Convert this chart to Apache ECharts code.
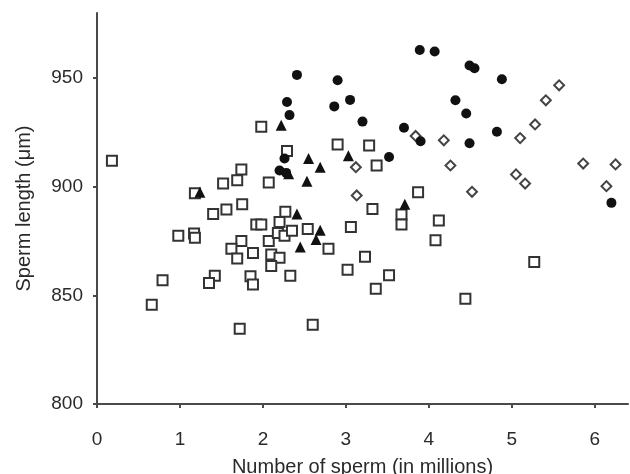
<!DOCTYPE html>
<html>
<head>
<meta charset="utf-8">
<script src="https://cdn.jsdelivr.net/npm/echarts@6/dist/echarts.min.js"></script>
<style>
  html, body { margin: 0; padding: 0; background: #fff; }
  #chart { width: 630px; height: 474px; }
</style>
</head>
<body>
<div id="chart"></div>
<script>
// axis ticks
var xTicks = [0, 1, 2, 3, 4, 5, 6];
var yTicks = [800, 850, 900, 950];

// [number of sperm (millions), sperm length (um)]
var squarePoints = [
	[0.18, 912], [1.74, 908], [1.69, 903], [1.52, 901.5], [1.18, 897], [2.07, 902],
	[1.75, 892], [1.56, 889.5], [1.40, 887.5], [1.92, 882.6], [1.98, 882.6], [0.98, 877.4],
	[1.17, 878.5], [1.18, 876.5], [1.74, 875], [1.62, 871.5], [1.69, 867], [1.88, 869.5],
	[2.07, 875], [0.79, 857], [1.42, 859], [1.35, 855.7], [1.85, 858.8], [1.88, 855],
	[0.66, 845.7], [1.72, 834.6], [1.98, 927.6], [2.29, 916.5], [2.90, 919.5], [3.28, 919],
	[3.37, 909.8], [3.87, 897.5], [3.32, 889.8], [3.67, 887.2], [3.67, 882.6], [2.27, 888.5],
	[4.12, 884.5], [4.08, 875.4], [2.20, 883.8], [2.18, 878.7], [2.26, 877.5], [2.35, 879.8],
	[2.54, 880.6], [3.06, 881.5], [2.79, 871.5], [2.10, 868.8], [2.20, 867.3], [2.10, 863.5],
	[2.33, 859], [3.23, 867.8], [3.02, 861.8], [3.52, 859.3], [3.36, 853], [2.60, 836.5],
	[5.27, 865.4], [4.44, 848.4]
];

var trianglePoints = [
	[1.24, 897.5], [2.22, 928.3], [2.55, 913], [2.69, 909], [2.53, 902.5], [2.31, 906],
	[3.03, 914.3], [3.71, 892], [2.41, 887.5], [2.69, 880], [2.64, 875.7], [2.45, 872.3]
];

var circlePoints = [
	[2.41, 951.5], [2.90, 949], [2.29, 939], [3.05, 940], [2.86, 937], [2.32, 933],
	[3.20, 930], [3.89, 963], [4.07, 962.3], [3.70, 927.2], [3.90, 921], [3.52, 913.7],
	[2.26, 913], [2.20, 907.5], [2.28, 906.4], [4.49, 955.8], [4.55, 954.6], [4.88, 949.5],
	[4.32, 939.8], [4.45, 933.7], [4.82, 925.3], [4.49, 920], [6.20, 892.6]
];

var diamondPoints = [
	[3.12, 909], [3.13, 896], [3.84, 923.4], [4.18, 921.4], [4.26, 909.8], [4.52, 897.7],
	[5.10, 922.4], [5.28, 928.7], [5.41, 939.8], [5.57, 946.7], [5.05, 905.7], [5.16, 901.5],
	[5.86, 910.7], [6.25, 910.3], [6.14, 900.3]
];

var voChart = echarts.init(document.getElementById("chart"), null, { renderer: "canvas" });

var fontFamily = "Liberation Sans, Arial, sans-serif";
var axisColor = "#4a4a4a";
var textColor = "#2a2a2a";

var voOption = {
	animation: false,
	backgroundColor: "#fff",
	grid: { left: 97, right: 2, top: 13, bottom: 70, outerBoundsMode: "none" },
	xAxis: {
		type: "value",
		min: 0,
		max: 6.4,
		interval: 1,
		name: "Number of sperm (in millions)",
		nameLocation: "middle",
		nameGap: 53,
		nameTextStyle: { fontFamily: fontFamily, fontSize: 20, color: textColor },
		splitLine: { show: false },
		axisLine: { lineStyle: { color: axisColor, width: 2 } },
		axisTick: { length: 4, lineStyle: { color: axisColor, width: 2 }, customValues: xTicks },
		axisLabel: { margin: 26, fontFamily: fontFamily, fontSize: 19, color: textColor, customValues: xTicks }
	},
	yAxis: {
		type: "value",
		min: 800,
		max: 980,
		interval: 50,
		name: "Sperm length (\u03bcm)",
		nameLocation: "middle",
		nameGap: 63,
		nameTextStyle: { fontFamily: fontFamily, fontSize: 20, color: textColor },
		splitLine: { show: false },
		axisLine: { show: true, lineStyle: { color: axisColor, width: 2 } },
		axisTick: { show: true, length: 4, lineStyle: { color: axisColor, width: 2 }, customValues: yTicks },
		axisLabel: { margin: 14, fontFamily: fontFamily, fontSize: 19, color: textColor, customValues: yTicks }
	},
	series: [
		{
			type: "scatter",
			data: squarePoints,
			symbol: "rect",
			symbolSize: 10,
			itemStyle: { color: "#fff", borderColor: "#333", borderWidth: 2, opacity: 1 }
		},
		{
			type: "scatter",
			data: diamondPoints,
			symbol: "rect",
			symbolSize: 7,
			symbolRotate: 45,
			itemStyle: { color: "#fff", borderColor: "#444", borderWidth: 2, opacity: 1 }
		},
		{
			type: "scatter",
			data: trianglePoints,
			symbol: "triangle",
			symbolSize: 11,
			itemStyle: { color: "#111", opacity: 1 }
		},
		{
			type: "scatter",
			data: circlePoints,
			symbol: "circle",
			symbolSize: 10,
			itemStyle: { color: "#111", opacity: 1 }
		}
	]
};

voChart.setOption(voOption);
</script>
</body>
</html>
